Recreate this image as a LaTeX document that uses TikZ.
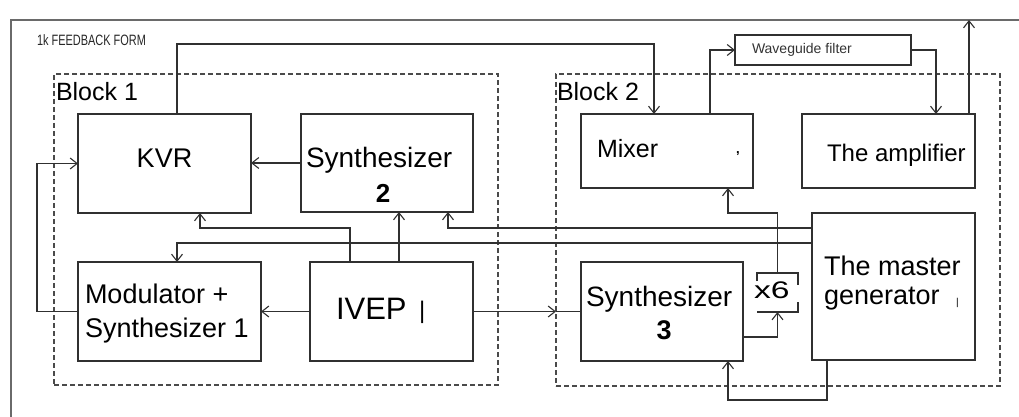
\documentclass[tikz,border=0pt]{standalone}
\usepackage{fontspec}
\setmainfont{Liberation Sans}
\usetikzlibrary{arrows.meta,calc}
\newcommand\fsz[1]{\fontsize{#1}{#1}\selectfont}
\definecolor{ink}{HTML}{303030}
\definecolor{framegray}{HTML}{6A6A6A}
\definecolor{dashgray}{HTML}{4A4A4A}
\tikzset{
  box/.style={draw=ink, line width=1.3pt, inner sep=0pt, outer sep=0pt},
  slot/.style={inner sep=0pt, outer sep=0pt},
  blockframe/.style={draw=dashgray, line width=1.1pt, dash pattern=on 5pt off 3pt, inner sep=0pt, outer sep=0pt},
  conn/.style={draw=ink, line width=1.1pt},
  txt/.style={inner sep=0pt, outer sep=0pt, anchor=base west, text=black},
  >={Straight Barb[length=7pt,width=11pt,line width=1.1pt]}
}
\begin{document}
\begin{tikzpicture}[x=1pt,y=-1pt]
\useasboundingbox (0,0) rectangle (1019,417);

% outer form frame (open on the right and bottom)
\draw[draw=framegray, line width=1.6pt] (11,417) -- (11,20) -- (1019,20);
\node[txt, text=black!85] (title) at (37,46) {\scalebox{0.73}[1]{\fsz{15}1k FEEDBACK FORM}};

% dashed block outlines
\node[blockframe, minimum width=444pt, minimum height=311pt] (blk1) at (276,229.5) {};
\node[blockframe, minimum width=444pt, minimum height=312pt] (blk2) at (778,230) {};
\node[txt] (blk1 label) at (56,101) {\fsz{25}Block 1};
\node[txt] (blk2 label) at (557,101) {\fsz{25}Block 2};

% Block 1 units
\node[box, minimum width=173pt, minimum height=99pt] (kvr) at (164.5,163.5) {};
\node[box, minimum width=172pt, minimum height=98pt] (syn2) at (387,163) {};
\node[box, minimum width=183pt, minimum height=99pt] (mod) at (169.5,311.5) {};
\node[box, minimum width=163pt, minimum height=99pt] (ivep) at (391.5,311.5) {};

% Block 2 units
\node[box, minimum width=172pt, minimum height=74pt] (mixer) at (667,151) {};
\node[box, minimum width=173pt, minimum height=74pt] (amp) at (888.5,151) {};
\node[box, minimum width=162pt, minimum height=99pt] (syn3) at (662,311.5) {};
\node[box, minimum width=163pt, minimum height=147pt] (master) at (893.5,286.5) {};
\node[slot, minimum width=41pt, minimum height=39pt] (x6) at (777.5,292.5) {};

% waveguide filter above the blocks
\node[box, line width=1.2pt, minimum width=176pt, minimum height=30pt] (wg) at (823,50) {};

% multiplier bracket
\draw[box] ($(x6.north west)+(0,8)$) -- (x6.north west) -- (x6.north east) -- ($(x6.north east)+(0,12)$);
\draw[box] ($(x6.south east)+(0,-10)$) -- (x6.south east) -- (x6.south west);

% unit captions
\node[txt, anchor=base] (kvr text) at (164.5,167) {\fsz{27}KVR};
\node[txt] (syn2 text) at (306,167) {\fsz{28}Synthesizer};
\node[txt, anchor=base] (syn2 num) at (383,202) {\fsz{26}\bfseries 2};
\node[txt] (mod text a) at (85,303) {\fsz{27}Modulator +};
\node[txt] (mod text b) at (85,337) {\fsz{27}Synthesizer 1};
\node[txt] (ivep text) at (336,319) {\fsz{31}IVEP};
\node[txt] (ivep mark) at (419,318) {\fsz{24}|};
\node[txt] (mixer text) at (597,157) {\fsz{25}Mixer};
\node[txt] (mixer mark) at (736,153) {\fsz{13}\bfseries ,};
\node[txt] (amp text) at (827,161) {\fsz{24}The amplifier};
\node[txt] (master text a) at (824,275) {\fsz{27}The master};
\node[txt] (master text b) at (824,304) {\fsz{27}generator};
\node[txt] (master mark) at (956,305) {\fsz{10}|};
\node[txt] (syn3 text) at (586,306) {\fsz{28}Synthesizer};
\node[txt, anchor=base] (syn3 num) at (664,339) {\fsz{27}\bfseries 3};
\node[txt] (x6 text) at (754,298) {\scalebox{1.4}[1]{\fsz{24}x6}};
\node[txt, text=black!80] (wg text) at (752,54) {\fsz{14}Waveguide filter};

% output of the amplifier
\coordinate (out) at (969,20);

% connections
\draw[conn,->] ($(kvr.north west)+(99,0)$) -- ++(0,-70) -| ($(mixer.north west)+(73,0)$);
\draw[conn,->] ($(mixer.north west)+(129,0)$) |- (wg.west);
\draw[conn,->] (wg.east) -| ($(amp.north west)+(134,0)$);
\draw[conn,->] ($(amp.north west)+(167,0)$) -- (out);
\draw[conn,->] (syn2.west) -- (syn2.west -| kvr.east);
\draw[conn,->] (mod.west) -- ++(-41,0) |- (kvr.west);
\draw[conn,->] ($(ivep.north west)+(40,0)$) -- ++(0,-34) -| ($(kvr.south west)+(122,0)$);
\draw[conn,->] ($(ivep.north west)+(89,0)$) coordinate (iv2) -- (iv2 |- syn2.south);
\draw[conn,->] ($(master.north west)+(0,15)$) -| ($(syn2.south west)+(147,0)$);
\draw[conn,->] ($(master.north west)+(0,30)$) -| ($(mod.north west)+(99,0)$);
\draw[conn,->] (ivep.west) -- (mod.east);
\draw[conn,->] (ivep.east) -- (ivep.east -| blk2.west);
\draw[conn] (ivep.east -| blk2.west) -- (syn3.west);
\draw[conn,->] ($(syn3.south east)+(0,-24)$) -| (x6.south);
\draw[conn,->] (x6.north) -- ++(0,-60) -| ($(mixer.south west)+(147,0)$);
\draw[conn,->] ($(master.south west)+(15,0)$) -- ++(0,40) -| ($(syn3.south west)+(147,0)$);
\end{tikzpicture}
\end{document}
